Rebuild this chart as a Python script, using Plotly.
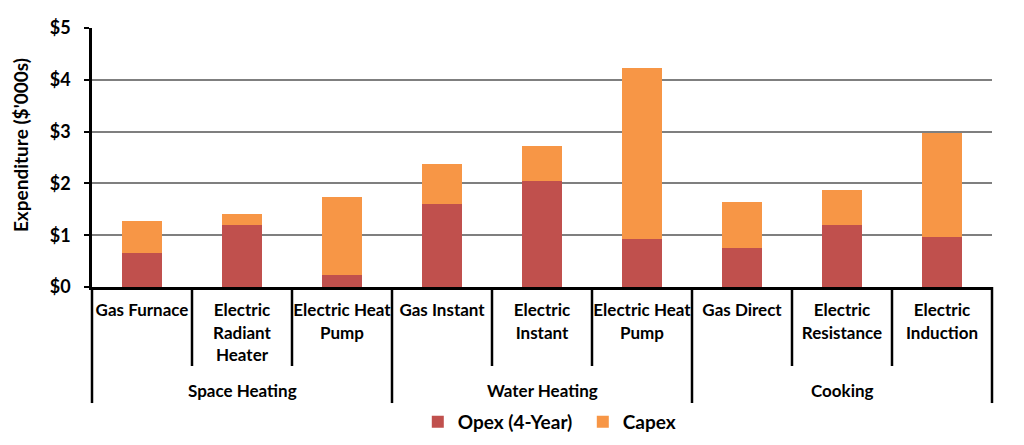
import plotly.graph_objects as go

# ---- data ----
groups = ["Space Heating", "Space Heating", "Space Heating",
          "Water Heating", "Water Heating", "Water Heating",
          "Cooking", "Cooking", "Cooking"]
tick_labels = ["Gas Furnace", "Electric<br>Radiant<br>Heater", "Electric Heat<br>Pump",
               "Gas Instant", "Electric<br>Instant", "Electric Heat<br>Pump",
               "Gas Direct", "Electric<br>Resistance", "Electric<br>Induction"]
opex = [0.66, 1.20, 0.24, 1.61, 2.05, 0.92, 0.75, 1.19, 0.97]
capex = [0.61, 0.20, 1.49, 0.76, 0.67, 3.30, 0.90, 0.69, 2.00]
y_ticks = [0, 1, 2, 3, 4, 5]
y_ticktext = ["$0", "$1", "$2", "$3", "$4", "$5"]

FONT = "Lato"
x_idx = list(range(len(tick_labels)))
x_range = [-0.5, len(tick_labels) - 0.5]

fig = go.Figure()
fig.add_trace(go.Bar(x=x_idx, y=opex, name="Opex (4-Year)",
                     marker=dict(color="#C0504D", line=dict(width=0))))
fig.add_trace(go.Bar(x=x_idx, y=capex, name="Capex",
                     marker=dict(color="#F79646", line=dict(width=0))))

def dom(v):
    return (v - x_range[0]) / (x_range[1] - x_range[0])

shapes = []
# boundaries between categories
for i in range(len(tick_labels) + 1):
    b = i - 0.5
    is_group = (i == 0 or i == len(tick_labels) or groups[i] != groups[i - 1])
    shapes.append(dict(type="line", xref="x domain", yref="paper",
                       x0=dom(b), x1=dom(b), y0=0, y1=-0.448 if is_group else -0.305,
                       line=dict(color="black", width=2.5)))

annotations = []
# group labels
seen = []
for g in groups:
    if g not in seen:
        seen.append(g)
for g in seen:
    idxs = [i for i, gg in enumerate(groups) if gg == g]
    annotations.append(dict(x=sum(idxs) / len(idxs), xref="x", y=-0.4015, yref="paper",
                            text=g, showarrow=False, xanchor="center", yanchor="middle",
                            font=dict(family=FONT, size=17, color="black", weight="bold")))
annotations.append(dict(x=-0.08, xref="paper", y=0.548, yref="paper",
                        text="Expenditure ($'000s)", textangle=-90, showarrow=False,
                        xanchor="center", yanchor="middle",
                        font=dict(family=FONT, size=19, color="black", weight="bold")))

# the page shows the figure 8px in from the top-left corner
fig.update_layout(
    template="none",
    width=1008, height=429,
    margin=dict(l=84, r=24, t=20, b=150, autoexpand=False),
    barmode="stack", bargap=0.6,
    plot_bgcolor="white", paper_bgcolor="white",
    font=dict(family=FONT, size=17, color="black", weight="bold"),
    shapes=shapes, annotations=annotations,
    legend=dict(orientation="h", x=0.362, xanchor="left", y=-0.521, yanchor="middle",
                font=dict(family=FONT, size=19, color="black", weight="bold"),
                traceorder="normal", itemwidth=30, entrywidth=120),
    showlegend=True,
)
fig.update_xaxes(range=x_range, tickvals=x_idx, ticktext=tick_labels, automargin=False,
                 showline=True, linecolor="black", linewidth=3,
                 showgrid=False, zeroline=False, ticks="",
                 tickfont=dict(family=FONT, size=17, color="black", weight="bold"),
                 ticklabelstandoff=6)
fig.update_yaxes(range=[0, 5], tickvals=y_ticks, ticktext=y_ticktext, automargin=False,
                 showline=True, linecolor="black", linewidth=2.5,
                 showgrid=True, gridcolor="#7F7F7F", gridwidth=1.5,
                 zeroline=False, ticks="outside", ticklen=5, tickwidth=2,
                 tickcolor="black", ticklabelstandoff=10,
                 tickfont=dict(family=FONT, size=18, color="black", weight="bold"))

fig.write_html("out.html")
